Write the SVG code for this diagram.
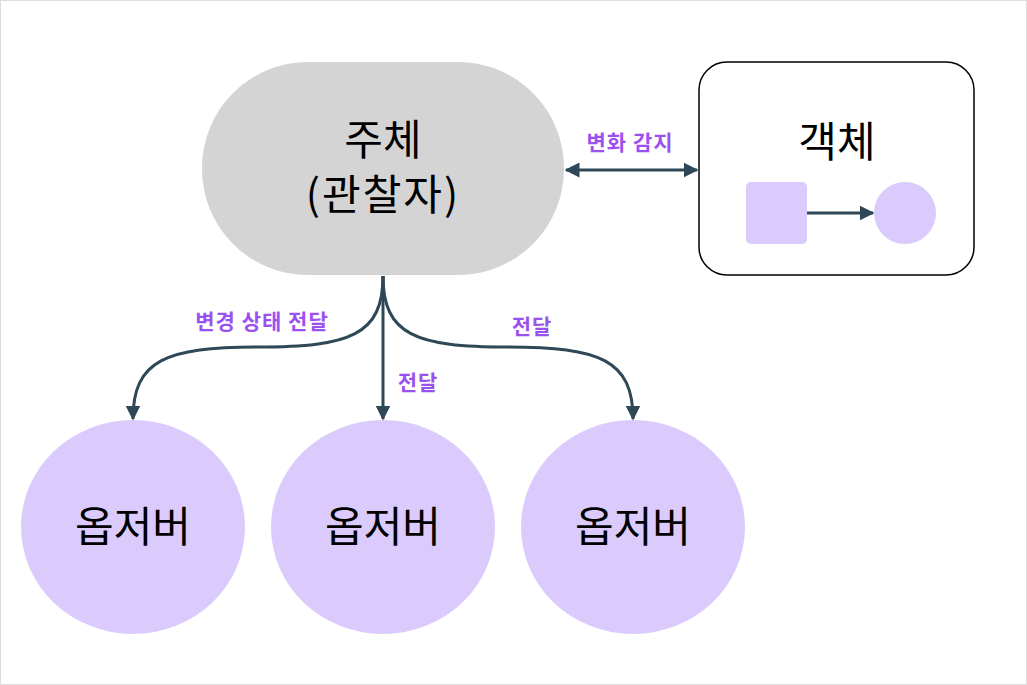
<svg xmlns="http://www.w3.org/2000/svg" width="1027" height="685" viewBox="0 0 1027 685">
<style>
.lbl{font-family:"Noto Sans CJK KR","Noto Sans",sans-serif;font-weight:bold;font-size:21px;letter-spacing:1px;fill:#9b51f0;text-anchor:middle}
.big{font-family:"Noto Sans CJK KR","Noto Sans",sans-serif;font-size:42px;fill:#000;text-anchor:middle}
.obs{fill:#dacbfc}
.edge{fill:none;stroke:#2e4858;stroke-width:3}
</style>
<defs>
<marker id="ah" viewBox="0 0 10 10" refX="9" refY="5" markerWidth="5" markerHeight="5" orient="auto-start-reverse" markerUnits="strokeWidth">
<path d="M0,0 L10,5 L0,10 z" fill="#2e4858"/>
</marker>
</defs>
<rect x="0.5" y="0.5" width="1026" height="684" fill="#fff" stroke="#dddddd"/>
<g id="subject">
<rect x="202" y="62" width="362" height="213" rx="106" fill="#d4d4d4"/>
<text class="big" x="383" y="155">주체</text>
<text class="big" x="383" y="210" letter-spacing="2">(관찰자)</text>
</g>
<g id="object">
<rect x="699" y="62" width="275" height="213" rx="28" fill="#fff" stroke="#000" stroke-width="1.5"/>
<text class="big" x="837" y="157">객체</text>
<rect x="746" y="182" width="61" height="62" rx="5" class="obs"/>
<circle cx="905" cy="213" r="31" class="obs"/>
<line class="edge" x1="807" y1="213" x2="873" y2="213" marker-end="url(#ah)"/>
</g>
<g id="observer1">
<ellipse cx="133" cy="527" rx="112" ry="107" class="obs"/>
<text class="big" x="133" y="542">옵저버</text>
</g>
<g id="observer2">
<ellipse cx="383" cy="527" rx="112" ry="107" class="obs"/>
<text class="big" x="383" y="542">옵저버</text>
</g>
<g id="observer3">
<ellipse cx="633" cy="527" rx="112" ry="107" class="obs"/>
<text class="big" x="633" y="542">옵저버</text>
</g>
<g id="connectors">
<line class="edge" x1="566" y1="170" x2="697" y2="170" marker-start="url(#ah)" marker-end="url(#ah)"/>
<line class="edge" x1="383" y1="276" x2="383" y2="419" marker-end="url(#ah)"/>
<path class="edge" d="M383,276 C383,335 350,347 258,347 C166,347 133,360 133,419" marker-end="url(#ah)"/>
<path class="edge" d="M383,276 C383,335 416,347 508,347 C600,347 633,360 633,419" marker-end="url(#ah)"/>
<text class="lbl" x="630" y="150">변화 감지</text>
<text class="lbl" x="262" y="329">변경 상태 전달</text>
<text class="lbl" x="418" y="390">전달</text>
<text class="lbl" x="532" y="334">전달</text>
</g>
</svg>
